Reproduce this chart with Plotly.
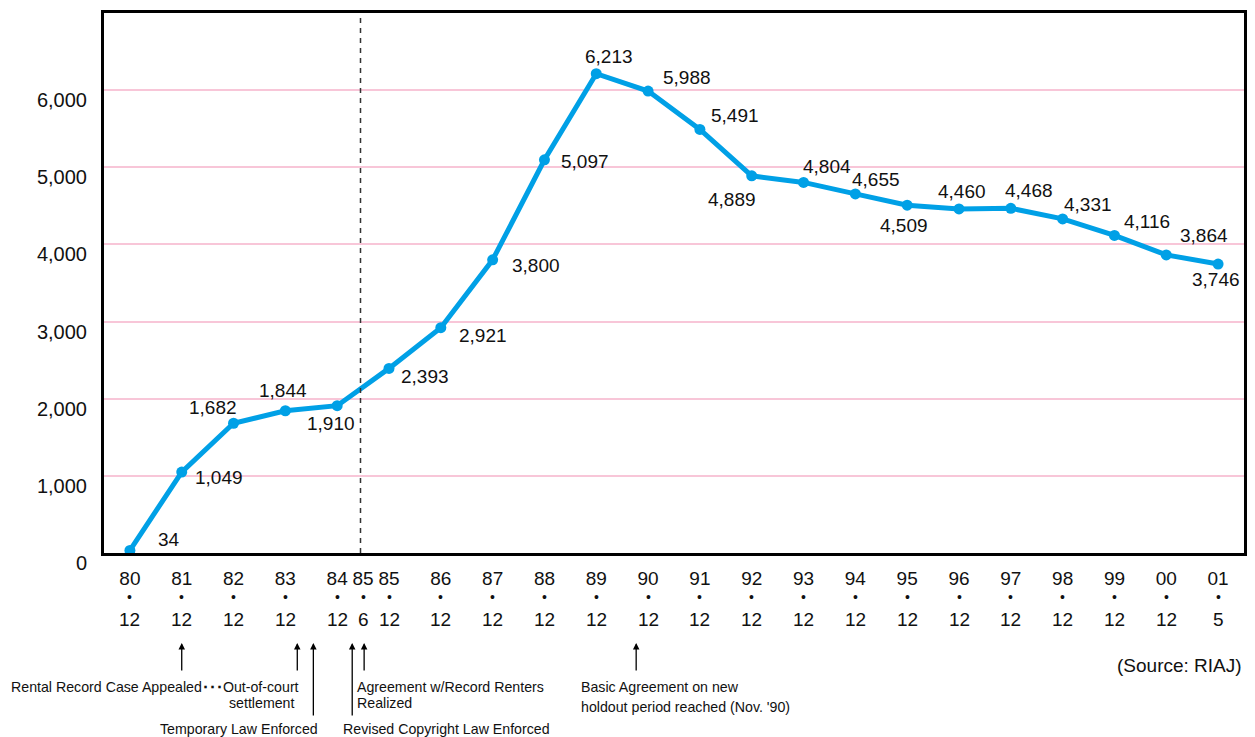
import plotly.graph_objects as go

# ---------------- data ----------------
tick_years = ["80", "81", "82", "83", "84", "85", "85", "86", "87", "88", "89", "90",
              "91", "92", "93", "94", "95", "96", "97", "98", "99", "00", "01"]
tick_months = ["12", "12", "12", "12", "12", "6", "12", "12", "12", "12", "12", "12",
               "12", "12", "12", "12", "12", "12", "12", "12", "12", "12", "5"]
tick_pos = [0, 1, 2, 3, 4, 4.5, 5, 6, 7, 8, 9, 10, 11, 12, 13, 14, 15, 16, 17, 18, 19, 20, 21]

point_pos = [0, 1, 2, 3, 4, 5, 6, 7, 8, 9, 10, 11, 12, 13, 14, 15, 16, 17, 18, 19, 20, 21]
values = [34, 1049, 1682, 1844, 1910, 2393, 2921, 3800, 5097, 6213, 5988, 5491,
          4889, 4804, 4655, 4509, 4460, 4468, 4331, 4116, 3864, 3746]

y_ticks = [0, 1000, 2000, 3000, 4000, 5000, 6000]

event_pos = [1.0, 3.23, 3.54, 4.29, 4.52, 9.77]

# label offsets (pixels) relative to each point
lab_dx = [39, 37, -21, -2, -6, 36, 42, 43, 41, 13, 39, 35, -20, 23, 21, -3, 3, 18, 25, 33, 38, -2]
lab_dy = [-11, 5, -16, -20, 18, 8, 8, 6, 2, -17, -14, -14, 24, -16, -14, 20, -17, -18, -14, -14, -19, 15]

# ---------------- layout helpers ----------------
L, R, T, B = 104, 1247, 12.5, 553.0
W, H = 1255, 737


def pxx(p):
    return (p - L) / (R - L)


def pxy(p):
    return (B - p) / (B - T)


BLUE = "#00A0E6"
FONT = "Liberation Sans, Arial, sans-serif"
TXT = "#111"

fig = go.Figure()
fig.add_trace(go.Scatter(
    x=point_pos, y=values, mode="lines+markers",
    line=dict(color=BLUE, width=5),
    marker=dict(color=BLUE, size=11),
    hoverinfo="skip", showlegend=False, cliponaxis=False,
))

annotations = []
for x, v, dx, dy in zip(point_pos, values, lab_dx, lab_dy):
    annotations.append(dict(
        x=x, y=v, xref="x", yref="y", text=f"{v:,}", showarrow=False,
        xshift=dx, yshift=-dy, font=dict(size=19, color=TXT, family=FONT),
    ))

# second and third lines of the x tick labels (dot and month)
for x, m in zip(tick_pos, tick_months):
    annotations.append(dict(
        x=x, y=pxy(597), xref="x", yref="paper", text="•", showarrow=False,
        yanchor="middle", font=dict(size=14, color=TXT, family=FONT),
    ))
    annotations.append(dict(
        x=x, y=pxy(620), xref="x", yref="paper", text=m, showarrow=False,
        yanchor="middle", font=dict(size=19, color=TXT, family=FONT),
    ))

# event arrows (tip just below tick labels)
arrow_len = [29, 29, 74, 74, 29, 29]
for x, ln in zip(event_pos, arrow_len):
    annotations.append(dict(
        x=x, y=pxy(643), xref="x", yref="paper", ax=0, ay=ln, text="",
        showarrow=True, arrowhead=2, arrowsize=1, arrowwidth=1.3, arrowcolor="#000",
    ))

small = dict(size=14.2, color=TXT, family=FONT)
texts = [
    ("Rental Record Case Appealed<b>･･･</b>Out-of-court", 302, 687, "right"),
    ("settlement", 262, 703, "center"),
    ("Temporary Law Enforced", 321, 729, "right"),
    ("Agreement w/Record Renters", 356, 687, "left"),
    ("Realized", 356, 703, "left"),
    ("Revised Copyright Law Enforced", 342, 729, "left"),
    ("Basic Agreement on new", 580, 687, "left"),
    ("holdout period reached (Nov. '90)", 580, 707, "left"),
]
for t, px, py, anc in texts:
    annotations.append(dict(
        x=pxx(px), y=pxy(py), xref="paper", yref="paper", text=t, showarrow=False,
        xanchor=anc, yanchor="middle", font=small,
    ))
annotations.append(dict(
    x=pxx(1247), y=pxy(666), xref="paper", yref="paper", text="(Source: RIAJ)",
    showarrow=False, xanchor="right", yanchor="middle",
    font=dict(size=19, color=TXT, family=FONT),
))

fig.update_layout(
    width=W, height=H,
    margin=dict(l=L, r=W - R, t=T, b=H - B, pad=0),
    paper_bgcolor="white", plot_bgcolor="white",
    font=dict(family=FONT, size=19, color=TXT),
    annotations=annotations,
    shapes=[dict(type="line", xref="x", yref="paper", x0=4.45, x1=4.45, y0=0, y1=1,
                 line=dict(color="#333", width=1.5, dash="5px,5px"))],
    xaxis=dict(
        range=[-0.5, 21.5], tickvals=tick_pos, ticktext=tick_years, showgrid=False,
        zeroline=False, showline=True, linecolor="#000", linewidth=3, mirror=True,
        ticks="", ticklabelstandoff=6, tickfont=dict(size=19, color=TXT, family=FONT),
    ),
    yaxis=dict(
        range=[0, 7000], tickvals=y_ticks, ticktext=[f"{v:,}" for v in y_ticks],
        showgrid=True, gridcolor="#F8C6D8", gridwidth=2, zeroline=False,
        showline=True, linecolor="#000", linewidth=3, mirror=True, ticks="",
        ticklabelshift=10, ticklabelstandoff=10,
        tickfont=dict(size=20, color=TXT, family=FONT),
    ),
)

fig.write_html("out.html", config={"displayModeBar": False},
               post_script="document.body.style.margin='0';")
